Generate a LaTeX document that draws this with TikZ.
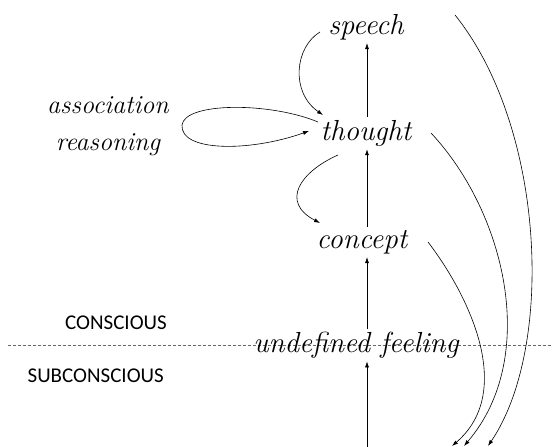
\documentclass[tikz,border=0pt]{standalone}
\usepackage{fontspec}
\usepackage{tikz}
\usetikzlibrary{arrows.meta, calc}
\newfontfamily\levelfont{Carlito}
\tikzset{
    word/.style={font=\fontsize{29}{33}\selectfont\itshape, inner sep=3pt},
    level/.style={font=\fontsize{21}{24}\selectfont\levelfont, anchor=east, inner sep=0pt},
    flow/.style={-{Latex[length=6pt,width=4pt]}, line width=0.6pt},
    divide/.style={dashed, dash pattern=on 3pt off 2pt, line width=0.5pt, gray!80!black},
}

\begin{document}
\begin{tikzpicture}[x=1pt, y=1pt]
    \useasboundingbox (0,0) rectangle (552,447);

    % levels
    \draw[divide] (8,102) -- (552,102);
    \node[level] (con) at (167,124) {CONSCIOUS};
    \node[level] (sub) at (164,71) {SUBCONSCIOUS};

    % the chain
    \node[word] (speech) at (366,420) {speech};
    \node[word] (thought) at (366,314) {thought};
    \node[word] (concept) at (362,205) {concept};
    \node[word] (feeling) at (356,102) {undefined feeling};
    \node[word, align=center, font=\fontsize{26}{37}\selectfont\itshape] (assoc) at (108,321) {association\\reasoning};

    \coordinate (src) at (367,0);
    \coordinate (top) at (455,432);
    \coordinate (d1) at (452,1);
    \coordinate (d2) at (464,1);
    \coordinate (d3) at (488,1);

    \draw[flow] (src) -- (feeling.south -| src);
    \draw[flow] (feeling.north -| src) -- (concept.south -| src);
    \draw[flow] (concept.north -| src) -- (thought.south -| src);
    \draw[flow] (thought.north -| src) -- (speech.south -| src);

    \draw[flow] ($(speech)+(-46,-5)$) .. controls (295,400) and (290,355) .. ($(thought)+(-43,18)$);
    \draw[flow] ($(thought)+(-28,-22)$) .. controls (300,275) and (280,245) .. ($(concept)+(-42,19)$);
    \draw[flow] ($(thought)+(-48,11)$) .. controls (270,345) and (185,345) .. (182,322)
        .. controls (180,295) and (250,295) .. ($(thought)+(-57,2)$);

    % back down
    \draw[flow] ($(concept)+(66,0)$) .. controls (470,150) and (515,55) .. (d1);
    \draw[flow] ($(thought)+(65,0)$) .. controls (505,235) and (540,90) .. (d2);
    \draw[flow] (top) .. controls (545,320) and (555,100) .. (d3);
\end{tikzpicture}
\end{document}
